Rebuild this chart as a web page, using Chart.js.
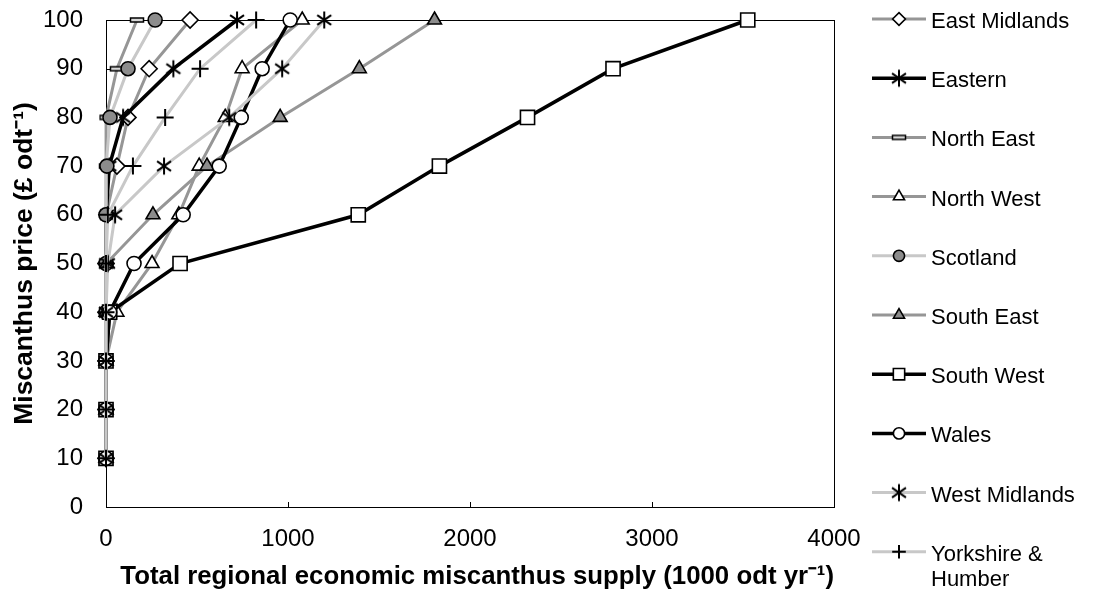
<!DOCTYPE html>
<html>
<head>
<meta charset="utf-8">
<script src="https://cdn.jsdelivr.net/npm/chart.js@4/dist/chart.umd.min.js"></script>
<style>
  html, body { margin: 0; padding: 0; background: #fff; }
</style>
</head>
<body>
<canvas id="supplyChart" width="1094" height="597"></canvas>
<script>
// prices on the y axis (£ per odt)
const prices = [10, 20, 30, 40, 50, 60, 70, 80, 90, 100];

// supply (1000 odt / yr) at each price
const eastMidlands = [0, 0, 0, 0, 0, 5, 60, 121, 237, 462];
const eastern      = [0, 0, 0, 0, 0, 5, 18, 94, 370, 720];
const northEast    = [0, 0, 0, 0, 0, 0, 0, 3, 60, 170];
const northWest    = [0, 0, 0, 60, 253, 400, 512, 655, 748, 1078];
const scotland     = [0, 0, 0, 0, 0, 0, 5, 22, 121, 270];
const southEast    = [0, 0, 0, 0, 5, 258, 555, 957, 1392, 1805];
const southWest    = [0, 0, 0, 20, 407, 1386, 1832, 2316, 2786, 3526];
const wales        = [0, 0, 0, 20, 154, 424, 622, 743, 858, 1012];
const westMidlands = [0, 0, 0, 0, 10, 50, 319, 677, 968, 1199];
const yorkshire    = [0, 0, 0, 0, 0, 10, 148, 325, 517, 825];

const xTicks = [0, 1000, 2000, 3000, 4000];

const FONT = '"Liberation Sans", Arial, Helvetica, sans-serif';
const BLACK = '#000000', GRAY = '#969696', LIGHT = '#c8c8c8';

// little canvases for the markers chart.js doesn't have
function makeMarker(w, h, draw) {
  const c = document.createElement('canvas');
  c.width = w; c.height = h;
  draw(c.getContext('2d'));
  return c;
}
const asterisk = makeMarker(20, 20, g => {
  g.strokeStyle = '#000';
  g.lineWidth = 2;
  g.beginPath();
  [90, 35, 145].forEach(a => {
    const r = a * Math.PI / 180, dx = Math.cos(r) * 8.5, dy = Math.sin(r) * 8.5;
    g.moveTo(10 - dx, 10 - dy);
    g.lineTo(10 + dx, 10 + dy);
  });
  g.stroke();
});
const dash = makeMarker(16, 8, g => {
  g.fillStyle = '#d8d8d8';
  g.fillRect(1, 2, 14, 4);
  g.strokeStyle = '#000';
  g.lineWidth = 1.5;
  g.strokeRect(1.5, 2, 13, 4);
});

const regions = [
  { name: 'East Midlands', values: eastMidlands, color: GRAY, width: 3, style: 'rectRot', r: 8, fill: '#fff' },
  { name: 'Eastern', values: eastern, color: BLACK, width: 3.5, style: asterisk, r: 9, fill: '#fff' },
  { name: 'North East', values: northEast, color: GRAY, width: 3, style: dash, r: 6, fill: '#fff' },
  { name: 'North West', values: northWest, color: GRAY, width: 3, style: 'triangle', r: 8, fill: '#fff' },
  { name: 'Scotland', values: scotland, color: LIGHT, width: 3, style: 'circle', r: 7, fill: '#8c8c8c' },
  { name: 'South East', values: southEast, color: GRAY, width: 3, style: 'triangle', r: 8, fill: '#8c8c8c' },
  { name: 'South West', values: southWest, color: BLACK, width: 3.5, style: 'rect', r: 10, fill: '#fff' },
  { name: 'Wales', values: wales, color: BLACK, width: 3.5, style: 'circle', r: 7, fill: '#fff' },
  { name: 'West Midlands', values: westMidlands, color: LIGHT, width: 3, style: asterisk, r: 9, fill: '#fff' },
  { name: 'Yorkshire & Humber', values: yorkshire, color: LIGHT, width: 3, style: 'cross', r: 8.5, fill: '#fff' }
];

const datasets = regions.map((reg, i) => ({
  label: reg.name,
  data: reg.values.map((v, k) => ({ x: v, y: prices[k] })),
  borderColor: reg.color,
  borderWidth: reg.width,
  pointStyle: reg.style,
  pointRadius: reg.r,
  pointBackgroundColor: reg.fill,
  pointBorderColor: '#000',
  pointBorderWidth: reg.style === 'cross' ? 2 : 1.6,
  tension: 0,
  clip: false,
  order: regions.length - i   // excel puts later series on top
}));

// box round the plot plus the small inward ticks
const framePlugin = {
  id: 'frame',
  beforeDatasetsDraw(chart) {
    const { ctx, chartArea: a, scales } = chart;
    ctx.save();
    ctx.strokeStyle = '#000';
    ctx.lineWidth = 1;
    ctx.strokeRect(a.left + 0.5, a.top + 0.5, a.right - a.left, a.bottom - a.top);
    ctx.beginPath();
    scales.x.ticks.forEach(t => {
      const px = Math.round(scales.x.getPixelForValue(t.value)) + 0.5;
      ctx.moveTo(px, a.bottom);
      ctx.lineTo(px, a.bottom - 5);
    });
    scales.y.ticks.forEach(t => {
      const py = Math.round(scales.y.getPixelForValue(t.value)) + 0.5;
      ctx.moveTo(a.left, py);
      ctx.lineTo(a.left + 5, py);
    });
    ctx.stroke();
    ctx.restore();
  }
};

// legend on the right: line sample with the marker in the middle
const legendPlugin = {
  id: 'sideLegend',
  afterDraw(chart) {
    const ctx = chart.ctx;
    chart.data.datasets.forEach((ds, i) => {
      const y = 19 + i * 59.2;
      ctx.save();
      ctx.strokeStyle = ds.borderColor;
      ctx.lineWidth = ds.borderWidth;
      ctx.beginPath();
      ctx.moveTo(872, y);
      ctx.lineTo(926, y);
      ctx.stroke();

      ctx.fillStyle = ds.pointBackgroundColor;
      ctx.strokeStyle = '#000';
      ctx.lineWidth = ds.pointBorderWidth;
      Chart.helpers.drawPoint(ctx, {
        pointStyle: ds.pointStyle,
        radius: ds.pointRadius * 0.8,
        borderWidth: ds.pointBorderWidth,
        rotation: 0
      }, 899, y);

      ctx.fillStyle = '#000';
      ctx.font = '22px ' + FONT;
      ctx.textAlign = 'left';
      ctx.textBaseline = 'middle';
      // wrap long names
      const words = ds.label.split(' ');
      const lines = [];
      let cur = '';
      words.forEach(w => {
        const test = cur ? cur + ' ' + w : w;
        if (ctx.measureText(test).width > 158 && cur) { lines.push(cur); cur = w; }
        else cur = test;
      });
      lines.push(cur);
      lines.forEach((ln, k) => ctx.fillText(ln, 931, y + 3 + k * 25));
      ctx.restore();
    });
  }
};

new Chart(document.getElementById('supplyChart').getContext('2d'), {
  type: 'line',
  data: { datasets: datasets },
  options: {
    responsive: false,
    animation: false,
    layout: { padding: { top: 20, right: 260, left: 0, bottom: 0 } },
    plugins: { legend: { display: false }, tooltip: { enabled: false } },
    scales: {
      x: {
        type: 'linear',
        min: 0,
        max: 4000,
        afterBuildTicks: scale => { scale.ticks = xTicks.map(v => ({ value: v })); },
        afterFit: scale => { scale.height = 90; },
        grid: { display: false, drawTicks: false },
        border: { display: false },
        ticks: {
          color: '#000', padding: 18, maxRotation: 0,
          font: { family: FONT, size: 24 },
          callback: v => String(v)
        },
        title: {
          display: true,
          // leading spaces nudge it right like the original
          text: '  Total regional economic miscanthus supply (1000 odt yr\u207B\u00B9)',
          color: '#000',
          padding: { top: 0, bottom: 4 },
          font: { family: FONT, size: 26.5, weight: 'bold' }
        }
      },
      y: {
        type: 'linear',
        min: 0,
        max: 100,
        afterFit: scale => {
          scale.width = 106;
          // tick padding otherwise pushes the plot top down
          scale.paddingTop = 0;
          scale.paddingBottom = 0;
        },
        grid: { display: false, drawTicks: false },
        border: { display: false },
        ticks: { stepSize: 10, color: '#000', padding: 23, font: { family: FONT, size: 24 } },
        title: {
          display: true,
          text: 'Miscanthus price (\u00A3 odt\u207B\u00B9)',
          color: '#000',
          padding: { top: 9, bottom: 0 },
          font: { family: FONT, size: 26.5, weight: 'bold' }
        }
      }
    }
  },
  plugins: [framePlugin, legendPlugin]
});
</script>
</body>
</html>
